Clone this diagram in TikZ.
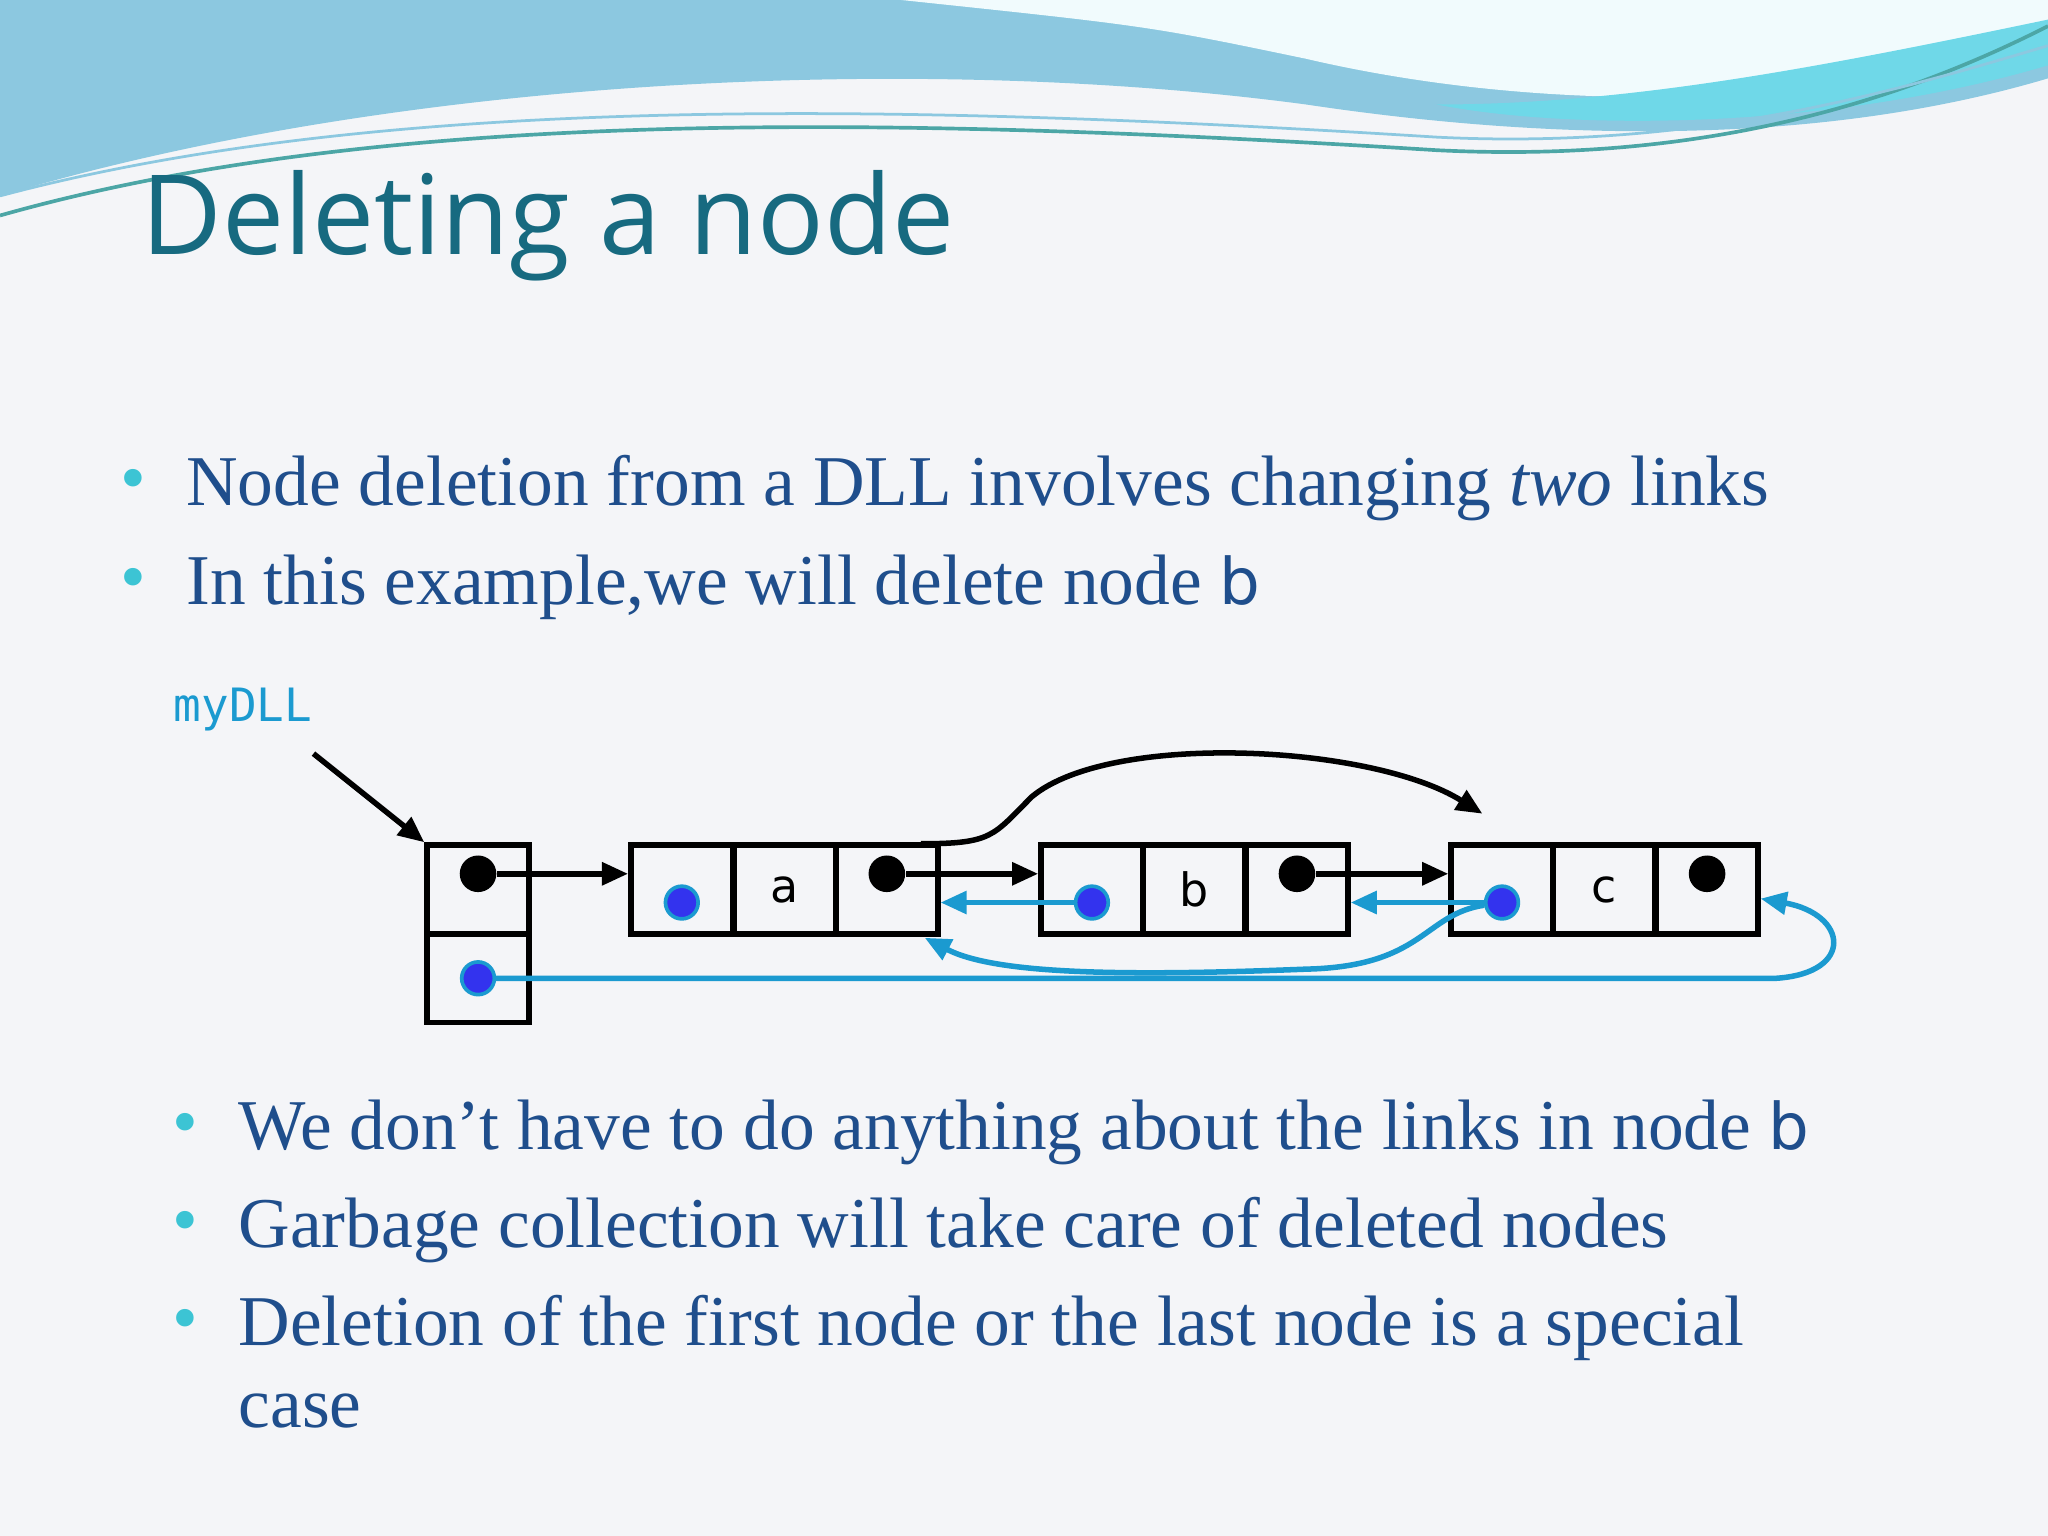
\documentclass[tikz,border=0pt]{standalone}
\usepackage{fontspec}
\setmainfont{Liberation Serif}
\newfontfamily\titlefont{Open Sans}
\newfontfamily\monofont{DejaVu Sans Mono}
\newfontfamily\sansf{DejaVu Sans}
\usetikzlibrary{arrows.meta}
\definecolor{bg}{HTML}{F4F5F8}
\definecolor{titlec}{HTML}{176A80}
\definecolor{bodyc}{HTML}{1F4E8C}
\definecolor{bulc}{HTML}{3CC4D4}
\definecolor{linkb}{HTML}{1B9AD0}
\definecolor{dotb}{HTML}{3333EE}
\definecolor{w1}{HTML}{8CC8E0}
\definecolor{w2}{HTML}{6FD8E8}
\tikzset{x=0.01cm,y=-0.01cm,
 cell/.style={draw,line width=1.2pt,minimum width=0.78cm,minimum height=0.68cm,inner sep=0pt},
 bdot/.style={circle,fill=black,minimum size=0.28cm,inner sep=0pt},
 udot/.style={circle,fill=dotb,draw=linkb,line width=0.8pt,minimum size=0.25cm,inner sep=0pt},
 blk/.style={line width=1.2pt,-{Triangle[length=0.2cm,width=0.17cm]}},
 blu/.style={line width=1.2pt,linkb,-{Triangle[length=0.2cm,width=0.17cm]}},
 btext/.style={anchor=base west,inner sep=0pt,text=bodyc,font=\fontsize{15.55}{18}\selectfont},
 bul/.style={text=bulc,font=\fontsize{16}{18}\selectfont},
 cellf/.style={font=\sansf\fontsize{10}{12}\selectfont}}
\begin{document}
\begin{tikzpicture}
\fill[bg] (0,0) rectangle (1568,1176);
\useasboundingbox (0,0) rectangle (1568,1176);
% top wave
\fill[w1] (0,0) -- (1568,0) -- (1568,60) .. controls (1400,110) and (1200,110) .. (1000,80) .. controls (700,40) and (300,60) .. (0,150) -- cycle;
\fill[white!90!w2] (690,0) -- (1568,0) -- (1568,40) .. controls (1350,90) and (1150,80) .. (1000,45) .. controls (880,20) .. (690,0) -- cycle;
\fill[w2] (1050,0) -- (1568,0) -- (1568,50) .. controls (1400,100) and (1200,100) .. (1100,80) .. controls (1250,80) and (1400,50) .. (1568,15) -- (1568,0) -- cycle;
\draw[teal!70,line width=0.8pt] (0,165) .. controls (300,80) and (700,90) .. (1100,115) .. controls (1300,125) and (1450,80) .. (1568,20);
\draw[w1,line width=0.6pt] (0,150) .. controls (300,70) and (700,80) .. (1100,105) .. controls (1300,115) and (1450,70) .. (1568,35);
% title
\node[anchor=base west,inner sep=0pt,text=titlec,font=\titlefont\fontsize{24.1}{28}\selectfont] (title) at (108,195) {Deleting a node};
% bullets top
\node[bul] (d1) at (102,372) {•};
\node[btext] (t1) at (142,387) {Node deletion from a DLL involves changing \textit{two} links};
\node[bul] (d2) at (102,448) {•};
\node[btext] (t2) at (142,463) {In this example,we will delete node {\sansf\fontsize{14}{16}\selectfont b}};
% lower bullets
\node[bul] (d3) at (142,865) {•};
\node[btext] (t3) at (182,880) {We don’t have to do anything about the links in node {\sansf\fontsize{14}{16}\selectfont b}};
\node[bul] (d4) at (142,940) {•};
\node[btext] (t4) at (182,955) {Garbage collection will take care of deleted nodes};
\node[bul] (d5) at (142,1015) {•};
\node[btext] (t5) at (182,1030) {Deletion of the first node or the last node is a special};
\node[btext] (t6) at (182,1093) {case};
% diagram
\node[text=linkb,font=\monofont\fontsize{10}{12}\selectfont] (lbl) at (186,543) {myDLL};
\coordinate (lp) at (240,577);
\node[cell] (h1) at (366,681) {};
\node[cell] (h2) at (366,749) {};
\node[cell] (a1) at (522,681) {}; \node[cell,cellf] (a2) at (601,681) {a}; \node[cell] (a3) at (679,681) {};
\node[cell] (b1) at (836,681) {}; \node[cell,cellf] (b2) at (914,681) {b}; \node[cell] (b3) at (993,681) {};
\node[cell] (c1) at (1150,681) {}; \node[cell,cellf] (c2) at (1228,681) {c}; \node[cell] (c3) at (1307,681) {};
\node[bdot] (hd) at (366,669) {};
\node[udot] (hu) at (366,749) {};
\node[udot] (au) at (522,691) {}; \node[bdot] (ad) at (679,669) {};
\node[udot] (bu) at (836,691) {}; \node[bdot] (bd) at (993,669) {};
\node[udot] (cu) at (1150,691) {}; \node[bdot] (cd) at (1307,669) {};
\draw[blk] (lp) -- (h1.north west);
\draw[blk] (hd) -- (a1.west|-hd);
\draw[blk] (ad) -- (b1.west|-ad);
\draw[blk] (bd) -- (c1.west|-bd);
\coordinate (ctop) at (1135,623);
\draw[blk] (705,646) .. controls (760,646) and (760,640) .. (790,610) .. controls (850,560) and (1050,570) .. (ctop);
\draw[blu] (bu) -- (a3.east|-bu);
\draw[blu] (cu) -- (b3.east|-cu);
\draw[blu] (cu) .. controls (1090,700) and (1090,740) .. (1000,742) .. controls (850,748) and (760,745) .. (708,718);
\draw[blu] (hu) -- (1360,749) .. controls (1420,745) and (1415,700) .. (1348,688);
\end{tikzpicture}
\end{document}
